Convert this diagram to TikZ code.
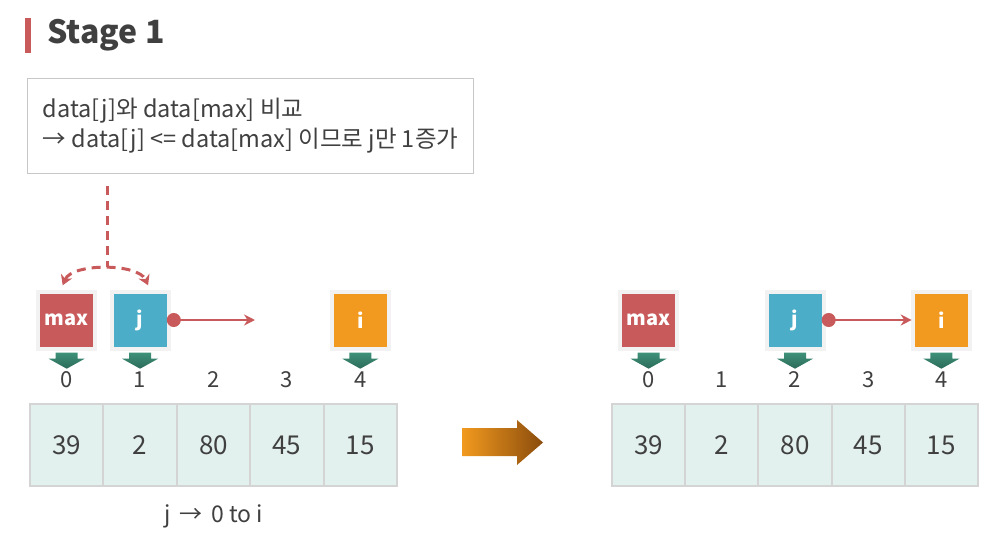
\documentclass[tikz,border=0pt]{standalone}
\usepackage{fontspec}
\setmainfont{Noto Sans CJK KR}
\usetikzlibrary{arrows.meta,calc}

\definecolor{txtgray}{HTML}{404040}
\definecolor{ptrred}{HTML}{C95A5B}
\definecolor{ptrblue}{HTML}{4BADC8}
\definecolor{ptrorange}{HTML}{F29A1F}
\definecolor{cellfill}{HTML}{E3F1EE}
\definecolor{cellline}{HTML}{D4D4D4}
\definecolor{greentop}{HTML}{3F917A}
\definecolor{greenbot}{HTML}{2B6B58}
\definecolor{arrowbrown}{HTML}{8A4C0C}

\tikzset{
  cell/.style={draw=cellline, line width=2pt, fill=cellfill, minimum width=73.4pt, minimum height=82pt,
    inner sep=0pt, text=txtgray, font=\fontsize{26}{30}\selectfont},
  ptr/.style={fill=#1, minimum size=53pt, inner sep=0pt, text=white, font=\bfseries\fontsize{20}{24}\selectfont,
    preaction={draw=black!5, line width=8pt}},
  idx/.style={text=txtgray, font=\fontsize{22}{26}\selectfont},
  move/.style={draw=ptrred, line width=1.8pt, {Circle[length=14pt]}-{Stealth[length=11pt,width=11pt]}},
  redash/.style={draw=ptrred, line width=3pt, dash pattern=on 9pt off 6pt}
}

\begin{document}
\begin{tikzpicture}[x=1pt,y=-1pt]
  \useasboundingbox (0,0) rectangle (993,556);

  \fill[ptrred] (25,18) rectangle (31,53);
  \node[anchor=west, text=txtgray, font=\bfseries\fontsize{32}{36}\selectfont] (title) at (44,35) {Stage 1};

  \node[draw=black!22, line width=1.2pt, anchor=north west, minimum width=446pt, minimum height=95pt,
    align=left, text=txtgray, font=\fontsize{23.5}{30}\selectfont]
    (note) at (27,78) {data[j]와 data[max] 비교\\→ data[j] <= data[max] 이므로 j만 1증가};

  % left array
  \foreach \v [count=\k from 0] in {39,2,80,45,15} {
    \node[cell] (a\k) at ({30+73.4*(\k+0.5)},445) {\v};
    \node[idx] (ai\k) at ({30+73.4*(\k+0.5)},380) {\k};
  }
  % right array
  \foreach \v [count=\k from 0] in {39,2,80,45,15} {
    \node[cell] (b\k) at ({612+73.2*(\k+0.5)},445) {\v};
    \node[idx] (bi\k) at ({612+73.2*(\k+0.5)},380) {\k};
  }

  \node[ptr=ptrred] (max) at (a0 |- 0,320) {max};
  \node[ptr=ptrblue] (j) at (a1 |- 0,320) {j};
  \node[ptr=ptrorange] (i) at (a4 |- 0,320) {i};
  \node[ptr=ptrred] (rmax) at (b0 |- 0,320) {max};
  \node[ptr=ptrblue] (rj) at (b2 |- 0,320) {j};
  \node[ptr=ptrorange] (ri) at (b4 |- 0,320) {i};

  \foreach \b in {max,j,i,rmax,rj,ri} {
    \shade[top color=greentop, bottom color=greenbot]
      ([shift={(-11,6)}]\b.south) -- ++(22,0) -- ++(0,6) -- ++(7,0) -- ++(-18,10) -- ++(-18,-10) -- ++(7,0) -- cycle;
  }

  \coordinate (jend) at (255,320);
  \draw[move] (j.east) -- (jend);
  \draw[move] (rj.east) -- ([xshift=-3pt]ri.west);

  \coordinate (top) at (107,267);
  \draw[redash] ($(top |- note.south)+(0,12)$) -- (top);
  \draw[redash, {Stealth[length=10pt,width=12pt]}-{Stealth[length=10pt,width=12pt]}]
    ([shift={(-4,-8)}]max.north) .. controls (72,263) and (138,263) .. ([shift={(8,-8)}]j.north);

  \shade[left color=ptrorange, right color=arrowbrown]
    (462,428) -- (517,428) -- (517,420) -- (543,442.5) -- (517,465) -- (517,456) -- (462,456) -- cycle;

  \node[text=txtgray, font=\fontsize{23}{26}\selectfont] (range) at (a2 |- 0,516) {j \,→\, 0 to i};
\end{tikzpicture}
\end{document}
